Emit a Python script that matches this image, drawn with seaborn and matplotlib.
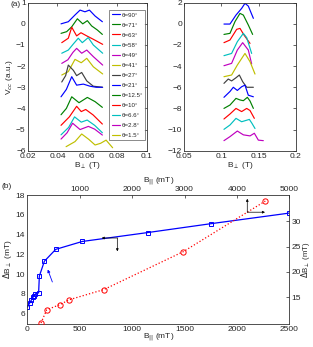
import numpy as np
import pandas as pd
import matplotlib
matplotlib.use("Agg")
import matplotlib.pyplot as plt
import seaborn as sns

sns.set_style("white")
plt.rcParams['font.family'] = ['Liberation Sans', 'DejaVu Sans']
plt.rcParams['mathtext.fontset'] = 'dejavusans'

# ---------------- data ----------------
mcolors = ['#0000ff', '#008000', '#ff0000', '#00bfbf', '#bf00bf', '#bfbf00', '#404040']

theta_labels = ['90', '71', '63', '58', '49', '41', '27', '21', '12.5', '10', '6.6', '2.8', '1.5']

left_x = [
    [0.0424, 0.0473, 0.0518, 0.0552, 0.0585, 0.0615, 0.0653, 0.0702],
    [0.0424, 0.0462, 0.0496, 0.0534, 0.0570, 0.0601, 0.0630, 0.0668, 0.0702],
    [0.0429, 0.0473, 0.0496, 0.0529, 0.0558, 0.0597, 0.0641, 0.0704],
    [0.0429, 0.0473, 0.0507, 0.0540, 0.0567, 0.0607, 0.0641, 0.0704],
    [0.0429, 0.0470, 0.0504, 0.0529, 0.0563, 0.0597, 0.0641, 0.0704],
    [0.0429, 0.0473, 0.0518, 0.0560, 0.0597, 0.0641, 0.0704],
    [0.0429, 0.0455, 0.0473, 0.0507, 0.0529, 0.0563, 0.0597, 0.0641, 0.0704],
    [0.0424, 0.0460, 0.0496, 0.0529, 0.0574, 0.0619, 0.0660, 0.0702],
    [0.0424, 0.0460, 0.0496, 0.0545, 0.0601, 0.0653, 0.0702],
    [0.0424, 0.0480, 0.0529, 0.0560, 0.0590, 0.0640, 0.0702],
    [0.0424, 0.0475, 0.0515, 0.0560, 0.0600, 0.0650, 0.0702],
    [0.0424, 0.0465, 0.0502, 0.0552, 0.0608, 0.0650, 0.0702],
    [0.0458, 0.0518, 0.0563, 0.0610, 0.0653, 0.0690, 0.0727, 0.0771],
]
left_y = [
    [0.00, 0.10, 0.42, 0.65, 0.57, 0.65, 0.37, 0.10],
    [-0.45, -0.37, -0.14, 0.24, 0.00, 0.15, -0.10, -0.29, -0.50],
    [-0.89, -0.68, -0.16, -0.57, -0.42, -0.57, -0.73, -0.97],
    [-1.39, -1.24, -0.95, -0.68, -0.89, -0.65, -1.00, -1.39],
    [-1.87, -1.70, -1.35, -1.16, -1.39, -1.24, -1.55, -1.95],
    [-2.42, -2.26, -1.68, -1.84, -1.63, -2.03, -2.37],
    [-2.75, -2.45, -1.95, -2.20, -2.45, -2.30, -2.70, -2.95, -3.00],
    [-3.45, -3.10, -2.50, -2.90, -2.85, -2.95, -3.00, -3.00],
    [-4.30, -4.00, -3.45, -3.73, -3.48, -3.68, -3.95],
    [-4.80, -4.40, -3.90, -4.15, -4.05, -4.31, -4.74],
    [-5.25, -4.90, -4.40, -4.65, -4.55, -4.80, -5.15],
    [-5.45, -5.15, -4.70, -5.00, -4.85, -4.98, -5.26],
    [-5.81, -5.57, -5.21, -5.46, -5.73, -5.65, -5.50, -5.86],
]

right_x = [
    [0.1034, 0.1115, 0.1196, 0.1272, 0.1317, 0.1362, 0.1430],
    [0.1034, 0.1115, 0.1183, 0.1250, 0.1295, 0.1362, 0.1420],
    [0.1034, 0.1115, 0.1205, 0.1250, 0.1304, 0.1385],
    [0.1034, 0.1137, 0.1214, 0.1295, 0.1340, 0.1407],
    [0.1034, 0.1137, 0.1214, 0.1286, 0.1362, 0.1407],
    [0.1034, 0.1137, 0.1214, 0.1317, 0.1385, 0.1452],
    [0.1034, 0.1092, 0.1137, 0.1196, 0.1241, 0.1286, 0.1340, 0.1430],
    [0.1034, 0.1115, 0.1160, 0.1214, 0.1272, 0.1317, 0.1362, 0.1430],
    [0.1034, 0.1115, 0.1196, 0.1250, 0.1295, 0.1349, 0.1385, 0.1430],
    [0.1034, 0.1115, 0.1196, 0.1272, 0.1340, 0.1385, 0.1443],
    [0.1034, 0.1115, 0.1196, 0.1272, 0.1376, 0.1410, 0.1452],
    [0.1034, 0.1115, 0.1214, 0.1295, 0.1385, 0.1443, 0.1497, 0.1564],
]
right_y = [
    [-0.02, -0.02, 0.83, 1.46, 1.94, 1.68, 0.52],
    [-1.00, -0.90, 0.22, 0.99, 0.83, -0.11, -1.00],
    [-1.78, -1.53, -0.52, -0.43, -1.06, -1.85],
    [-3.01, -2.80, -1.69, -0.90, -1.30, -2.80],
    [-3.96, -3.74, -2.48, -1.78, -2.48, -3.80],
    [-5.00, -4.84, -3.90, -2.80, -3.58, -4.75],
    [-5.63, -5.22, -5.40, -5.10, -4.84, -5.47, -6.00, -6.00],
    [-6.95, -6.40, -6.00, -6.30, -5.95, -5.80, -6.75, -6.90],
    [-8.00, -7.68, -7.05, -7.20, -7.27, -6.95, -7.30, -8.00],
    [-9.00, -8.53, -8.00, -8.30, -8.00, -8.20, -8.94],
    [-9.98, -9.57, -8.94, -9.26, -9.04, -9.40, -9.90],
    [-11.05, -10.67, -10.14, -10.50, -10.60, -10.35, -11.00, -11.05],
]

# panel (b)
blue_bpar = [0, 24, 40, 54, 63, 78, 108, 115, 163, 271, 525, 1149, 1753, 2500]
blue_dB = [6.64, 7.1, 7.4, 7.65, 7.8, 8.0, 8.1, 9.8, 11.3, 12.5, 13.3, 14.2, 15.1, 16.17]
red_bpar = [261, 370, 624, 802, 1458, 2977, 4542]
red_dB = [9.9, 12.5, 13.55, 14.5, 16.5, 24.0, 34.0]

# ---------------- figure ----------------
W, H = 313, 347
fig = plt.figure(figsize=(W / 100, H / 100), dpi=100)

def frac(x0, y0, x1, y1):
    return [x0 / W, 1 - y1 / H, (x1 - x0) / W, (y1 - y0) / H]

fs = 6.0
lw_ax = 0.6

def style(ax):
    for s in ax.spines.values():
        s.set_linewidth(lw_ax)
        s.set_color('#333333')
        s.set_visible(True)
    ax.tick_params(direction='in', length=2, width=0.5, labelsize=fs, pad=1.5,
                   top=True, right=True)

axL = fig.add_axes(frac(27.7, 2.7, 146.7, 150.7))
axR = fig.add_axes(frac(184.3, 2.7, 295.7, 150.7))

for i, (xs, ys) in enumerate(zip(left_x, left_y)):
    df = pd.DataFrame({'x': xs, 'y': ys})
    sns.lineplot(data=df, x='x', y='y', ax=axL, sort=False, estimator=None,
                 color=mcolors[i % 7], lw=0.85, label='θ=' + theta_labels[i] + '°')
for i, (xs, ys) in enumerate(zip(right_x, right_y)):
    df = pd.DataFrame({'x': xs, 'y': ys})
    sns.lineplot(data=df, x='x', y='y', ax=axR, sort=False, estimator=None,
                 color=mcolors[i % 7], lw=0.85, legend=False)

axL.set_xlim(0.02, 0.1)
axL.set_ylim(-6, 1)
axL.set_xticks([0.02, 0.04, 0.06, 0.08, 0.1])
axL.set_xticklabels(['0.02', '0.04', '0.06', '0.08', '0.1'])
axL.set_yticks(range(-6, 2))
axL.set_xlabel(r'B$_\perp$ (T)', fontsize=fs, labelpad=0)
axL.set_ylabel(r'V$_{cc}$ (a.u.)', fontsize=fs, labelpad=1)
style(axL)
leg = axL.legend(loc='upper right', bbox_to_anchor=(0.985, 0.95), fontsize=4.4,
                 frameon=True, fancybox=False, handlelength=1.3, handletextpad=0.3,
                 labelspacing=0.78, borderpad=0.35, borderaxespad=0)
leg.get_frame().set_edgecolor('#333333')
leg.get_frame().set_linewidth(0.5)

axR.set_xlim(0.05, 0.2)
axR.set_ylim(-12, 2)
axR.set_xticks([0.05, 0.1, 0.15, 0.2])
axR.set_xticklabels(['0.05', '0.1', '0.15', '0.2'])
axR.set_yticks(range(-12, 3, 2))
axR.set_xlabel(r'B$_\perp$ (T)', fontsize=fs, labelpad=0)
axR.set_ylabel('')
style(axR)

fig.text(16 / W, 1 - 5 / H, '(a)', fontsize=fs, ha='center', va='center')
fig.text(7 / W, 1 - 186 / H, '(b)', fontsize=fs, ha='center', va='center')

# panel (b)
pos_b = frac(27.3, 195, 289.3, 323.5)
axB = fig.add_axes(pos_b)
axT = fig.add_axes(pos_b, frameon=False)
axT.patch.set_visible(False)

dfb = pd.DataFrame({'x': blue_bpar, 'y': blue_dB})
sns.lineplot(data=dfb, x='x', y='y', ax=axB, sort=False, estimator=None,
             color='#0000ff', lw=0.9, marker='s', markersize=3.5,
             markerfacecolor='none', markeredgecolor='#0000ff', markeredgewidth=0.7)
dfr = pd.DataFrame({'x': red_bpar, 'y': red_dB})
sns.lineplot(data=dfr, x='x', y='y', ax=axT, sort=False, estimator=None,
             color='#ff0000', lw=0.9, ls=':', marker='o', markersize=3.8,
             markerfacecolor='none', markeredgecolor='#ff0000', markeredgewidth=0.7)

axB.set_xlim(0, 2500)
axB.set_ylim(5, 18)
axB.set_xticks(range(0, 2501, 500))
axB.set_yticks(range(6, 19, 2))
axB.set_xlabel(r'B$_{||}$ (mT)', fontsize=fs, labelpad=-0.5)
axB.set_ylabel(r'$\Delta$B$_\perp$ (mT)', fontsize=fs, labelpad=1)
for s in axB.spines.values():
    s.set_linewidth(lw_ax); s.set_color('#333333')
axB.tick_params(direction='in', length=2, width=0.5, labelsize=fs, pad=1.5,
                top=False, right=False)

axT.set_xlim(0, 5000)
axT.set_ylim(9.8, 35.2)
axT.set_xticks(range(1000, 5001, 1000))
axT.set_yticks([15, 20, 25, 30])
axT.xaxis.tick_top()
axT.yaxis.tick_right()
axT.xaxis.set_label_position('top')
axT.yaxis.set_label_position('right')
axT.set_xlabel(r'B$_{||}$ (mT)', fontsize=fs, labelpad=2)
axT.set_ylabel(r'$\Delta$B$_\perp$ (mT)', fontsize=5.6, rotation=90)
axT.yaxis.set_label_coords(1.038, 0.5)
axT.tick_params(direction='in', length=2, width=0.5, labelsize=fs, pad=1.5)

ap_b = dict(arrowstyle='-|>', lw=0.6, color='#0000ff', mutation_scale=4, shrinkA=0, shrinkB=0)
ap_k = dict(arrowstyle='-|>', lw=0.5, color='k', mutation_scale=3.5, shrinkA=0, shrinkB=0)
axB.annotate('', xy=(195, 10.46), xytext=(239, 9.2), arrowprops=ap_b)
axB.annotate('', xy=(710, 13.65), xytext=(859, 13.65), arrowprops=ap_k)
axB.annotate('', xy=(859, 12.3), xytext=(859, 13.65), arrowprops=ap_k)
axT.annotate('', xy=(4198, 34.46), xytext=(4198, 31.8), arrowprops=ap_k)
axT.annotate('', xy=(4536, 31.8), xytext=(4198, 31.8), arrowprops=ap_k)

fig.savefig('out.png', dpi=100)
